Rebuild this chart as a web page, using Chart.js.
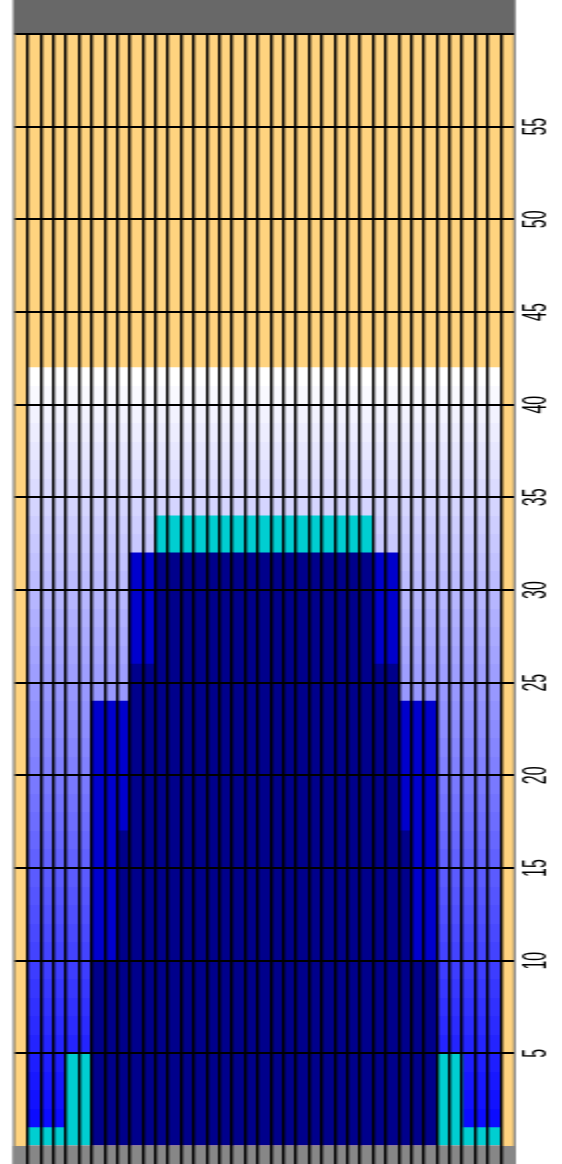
<!DOCTYPE html>
<html>
<head>
<meta charset="utf-8">
<script src="https://cdn.jsdelivr.net/npm/chart.js@4/dist/chart.umd.min.js"></script>
<style>
html, body { margin: 0; padding: 0; background: #ffffff; }
#wrap { position: relative; width: 562px; height: 1164px; overflow: hidden; }
#c { position: absolute; left: 0; top: 0; width: 281px; height: 1164px; transform: scaleX(2); transform-origin: 0 0; }
</style>
</head>
<body>
<div id="wrap"><canvas id="c" width="281" height="1164"></canvas></div>
<script>
// ---- data ----
const columns = ['1','2','3','4','5','6','7','8','9','10','11','12','13','14','15','16','17','18','19','20',
                 '21','22','23','24','25','26','27','28','29','30','31','32','33','34','35','36','37','38','39'];

// light (gradient) layer height per column
const shadeLevel = [null,
  42,42,42,42,42,42,42,42,42,42,
  42,42,42,42,42,42,42,42,42,42,
  42,42,42,42,42,42,42,42,42,42,
  42,42,42,42,42,42,42,
  null];

// stacked layers (bottom to top)
const navyDepth = [null, null,null,null, null,null, 10,10,17, 26,26,
  32,32,32,32,32,32,32,32,32,32,32,32,32,32,32,32,32,
  26,26, 17,10,10, null,null, null,null,null, null];

const blueDepth = [null, null,null,null, null,null, 14,14,7, 6,6,
  null,null,null,null,null,null,null,null,null,null,null,null,null,null,null,null,null,
  6,6, 7,14,14, null,null, null,null,null, null];

const tealDepth = [null, 1,1,1, 5,5, null,null,null, null,null,
  2,2,2,2,2,2,2,2,2,2,2,2,2,2,2,2,2,
  null,null, null,null,null, 5,5, 1,1,1, null];

const yTickLabels = [5, 10, 15, 20, 25, 30, 35, 40, 45, 50, 55];
const yMin = 0, yMax = 60, yStep = 5;

// ---- styling helpers ----
function shadeFill(context) {
  const chart = context.chart;
  const y = chart.scales && chart.scales.y;
  if (!chart.chartArea || !y) return '#8888ff';
  const top = Math.max(...shadeLevel.filter(v => v != null));
  const p0 = y.getPixelForValue(0), p1 = y.getPixelForValue(top);
  const g = chart.ctx.createLinearGradient(0, p0, 0, p1);
  for (let k = 0; k < top; k++) {
    const c = Math.round(255 * (k + 1) / top);
    const col = 'rgb(' + c + ',' + c + ',255)';
    g.addColorStop(k / top, col);
    g.addColorStop((k + 1) / top, col);
  }
  return g;
}

const backdrop = {
  id: 'backdrop',
  beforeDraw(chart) {
    const { ctx, chartArea: a, height } = chart;
    ctx.save();
    ctx.fillStyle = '#686868';
    ctx.fillRect(a.left - 1, 0, a.right - a.left + 2, height);
    ctx.fillStyle = '#878787';
    ctx.fillRect(a.left - 1, a.bottom, a.right - a.left + 2, height - a.bottom);
    ctx.fillStyle = '#FFD37F';
    ctx.fillRect(a.left, a.top, a.right - a.left, a.bottom - a.top);
    ctx.restore();
  }
};

const common = { grouped: false, barPercentage: 1, categoryPercentage: 1, borderWidth: 0 };

new Chart(document.getElementById('c'), {
  type: 'bar',
  data: {
    labels: columns,
    datasets: [
      Object.assign({ label: 'shade', data: shadeLevel, stack: 'bg', order: 2, backgroundColor: shadeFill }, common),
      Object.assign({ label: 'navy', data: navyDepth, stack: 'fg', order: 1, backgroundColor: '#00008B' }, common),
      Object.assign({ label: 'blue', data: blueDepth, stack: 'fg', order: 1, backgroundColor: '#0000CD' }, common),
      Object.assign({ label: 'teal', data: tealDepth, stack: 'fg', order: 1, backgroundColor: '#00CED1' }, common)
    ]
  },
  options: {
    responsive: false,
    animation: false,
    devicePixelRatio: 1,
    layout: { padding: { left: 7.5, top: 34, right: 0, bottom: 0 } },
    plugins: { legend: { display: false }, tooltip: { enabled: false }, title: { display: false } },
    scales: {
      x: {
        stacked: true,
        border: { display: false },
        grid: {
          offset: true,
          color: c => (c.index === undefined || c.index === 0) ? 'rgba(0,0,0,0)' : '#000000',
          lineWidth: 1.4,
          drawTicks: true,
          tickLength: 18,
          z: 1
        },
        ticks: { display: false },
        afterFit: s => { s.height = 18; }
      },
      y: {
        position: 'right',
        stacked: true,
        min: yMin,
        max: yMax,
        border: { display: false },
        grid: {
          color: c => (c.tick && c.tick.value === yMin) ? 'rgba(0,0,0,0)' : '#000000',
          lineWidth: 2,
          drawTicks: false,
          z: 1
        },
        ticks: {
          stepSize: yStep,
          autoSkip: false,
          minRotation: 90,
          maxRotation: 90,
          crossAlign: 'center',
          padding: 3,
          color: '#000000',
          font: { family: 'Liberation Sans', size: 16 },
          callback: v => yTickLabels.includes(v) ? String(v) : ''
        },
        afterFit: s => { s.width = 24.25; }
      }
    }
  },
  plugins: [backdrop]
});
</script>
</body>
</html>
